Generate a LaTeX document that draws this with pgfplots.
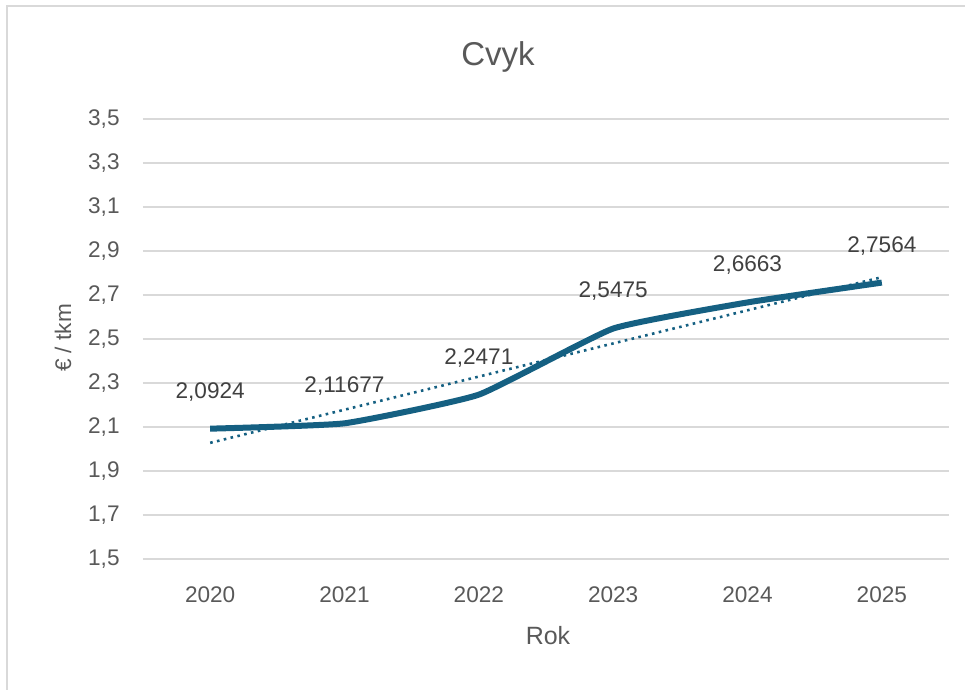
\documentclass[border=0pt]{standalone}
\usepackage{pgfplots}
\pgfplotsset{compat=1.18}
\usepackage{pgfplotstable}
\usepackage{fontspec}
\setmainfont{Liberation Sans}
\definecolor{linec}{HTML}{156082}
\definecolor{gridc}{HTML}{D9D9D9}
\definecolor{txt}{HTML}{595959}
\definecolor{lbl}{HTML}{404040}

\pgfplotstableread{
x y label
0 2.0924 2,0924
1 2.11677 2,11677
2 2.2471 2,2471
3 2.5475 2,5475
4 2.6663 2,6663
5 2.7564 2,7564
}\datatable

\begin{document}
\begin{tikzpicture}[x=0.5pt,y=-0.5pt]
\useasboundingbox (0,0) rectangle (965,690);
\draw[gridc, line width=1.2pt] (7,700) -- (7,6) -- (975,6);
\begin{axis}[
  at={(71.5pt,-279.5pt)}, anchor=south west,
  scale only axis, width=403pt, height=220pt,
  xmin=-0.5, xmax=5.5, ymin=1.5, ymax=3.5,
  xtick={0,1,2,3,4,5}, xticklabels={2020,2021,2022,2023,2024,2025},
  ytick={1.5,1.7,1.9,2.1,2.3,2.5,2.7,2.9,3.1,3.3,3.5},
  axis line style={draw=none}, major tick length=0pt,
  ymajorgrids, grid style={gridc, line width=1pt},
  ticklabel style={font=\fontsize{11.3}{13}\selectfont, color=txt},
  yticklabel style={anchor=east, inner sep=0pt, xshift=-11.5pt,
    /pgf/number format/.cd, use comma, fixed, fixed zerofill, precision=1, assume math mode=true},
  xticklabel style={anchor=center, inner sep=0pt, yshift=-18pt},
  clip=false,
]
\addplot[linec, line width=3pt, smooth, tension=0.25,
  point meta=explicit symbolic,
  nodes near coords,
  every node near coord/.append style={anchor=center, yshift=18.5pt, font=\fontsize{11.3}{13}\selectfont, color=lbl}]
  table[x=x, y=y, meta=label] {\datatable};
\addplot[linec, line width=1.3pt, dash pattern=on 1.3pt off 2.2pt] coordinates {(0,2.028) (5,2.781)};
\end{axis}
\node[font=\fontsize{16.5}{18}\selectfont, color=txt] at (498,57) {Cvyk};
\node[font=\fontsize{12.5}{14}\selectfont, color=txt] at (548,636) {Rok};
\node[font=\fontsize{11.3}{14}\selectfont, color=txt, rotate=90] at (63,338) {€ / tkm};
\end{tikzpicture}
\end{document}
